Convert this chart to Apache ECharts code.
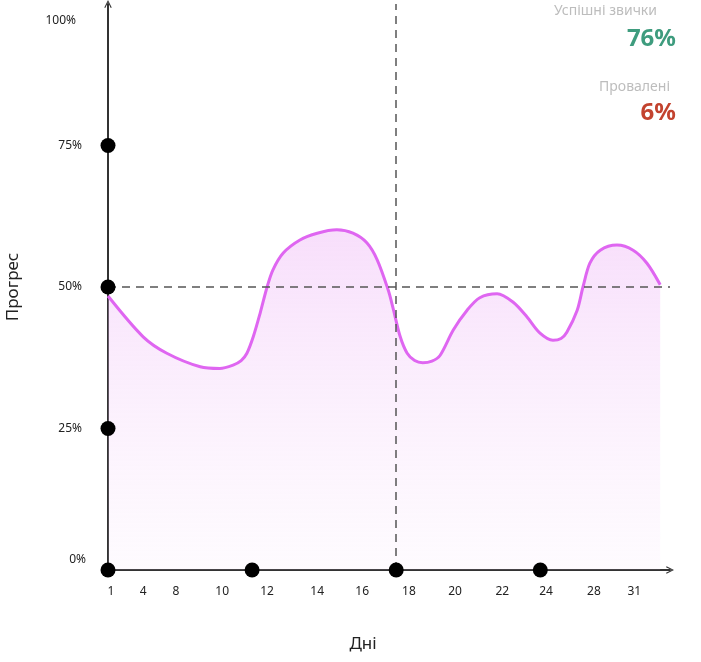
<!DOCTYPE html>
<html>
<head>
<meta charset="utf-8">
<script src="https://cdn.jsdelivr.net/npm/echarts@6/dist/echarts.min.js"></script>
<style>html,body{margin:0;padding:0;background:#fff}#c{width:701px;height:662px}</style>
</head>
<body>
<div id="c"></div>
<script>
// Curve: position along the day axis and progress (%)
const curveX = [0, 6.1, 10.2, 16.0, 19.4, 21.7, 23.1, 24.1, 25.2, 26.4, 27.6, 28.6, 30.4, 33.3, 36.3, 39.7, 42.5, 44.9, 46.7, 48.6, 49.4, 50.7, 51.9, 53.2, 54.6, 56.2, 57.6, 59.9, 62.3, 64.5, 67.5, 70.3, 72.7, 74.9, 77.2, 78.6, 79.6, 81.4, 82.4, 83.6, 85.4, 88.3, 91.1, 93.5, 95.8];
const progress = [48.4, 41.2, 38.3, 35.9, 35.6, 36.2, 37.0, 38.3, 41.2, 45.4, 50.0, 53.0, 56.0, 58.3, 59.5, 60.1, 59.5, 57.8, 54.8, 49.5, 46.5, 41.2, 38.3, 37.0, 36.6, 36.9, 37.9, 42.4, 45.9, 48.1, 48.8, 47.3, 44.7, 41.9, 40.6, 40.9, 42.0, 45.9, 50.0, 54.2, 56.5, 57.4, 56.5, 54.2, 50.4];
// Day tick labels and where they sit on the axis
const dayLabels = ['1', '4', '8', '10', '12', '14', '16', '18', '20', '22', '24', '28', '31'];
const dayLabelAt = [0.5, 6.1, 11.8, 19.8, 27.6, 36.3, 44.1, 52.2, 60.2, 68.4, 76.0, 84.3, 91.3];
// Y tick values
const yTicks = [0, 25, 50, 75, 100];
// Marker dots on the axes
const axisDots = [[0, 0], [0, 25], [0, 50], [0, 75], [25, 0], [50, 0], [75, 0]];
// Guide lines
const guideX = 50, guideY = 50;
// Summary
const successLabel = 'Успішні звички', successValue = '76%';
const failLabel = 'Провалені', failValue = '6%';

const FONT = 'Noto Sans';
const chevron = 'path://M0,12 L6,0 L12,12 L10.4,12.9 L6,3.6 L1.6,12.9 Z';

const chart = echarts.init(document.getElementById('c'));
chart.setOption({
  animation: false,
  textStyle: { fontFamily: FONT },
  grid: { left: 108, right: 31, top: 4, bottom: 92, containLabel: false, outerBoundsMode: 'none' },
  xAxis: {
    type: 'value', min: 0, max: 97.5,
    name: 'Дні', nameLocation: 'middle', nameGap: 66,
    nameTextStyle: { fontSize: 17, color: '#222', fontFamily: FONT, padding: [0, 52, 0, 0] },
    axisLine: { show: true, onZero: false, lineStyle: { color: '#333', width: 2 }, symbol: ['none', chevron], symbolSize: [13, 8], symbolOffset: [0, 0] },
    axisTick: { show: false },
    splitLine: { show: false },
    axisLabel: {
      customValues: dayLabelAt, margin: 16, fontSize: 12, color: '#222', fontFamily: FONT,
      formatter: v => { const i = dayLabelAt.indexOf(v); return i >= 0 ? dayLabels[i] : ''; }
    }
  },
  yAxis: {
    type: 'value', min: 0, max: 100,
    name: 'Прогрес', nameLocation: 'middle', nameGap: 86,
    nameTextStyle: { fontSize: 17, color: '#222', fontFamily: FONT },
    axisLine: { show: true, onZero: false, lineStyle: { color: '#333', width: 2 }, symbol: ['none', chevron], symbolSize: [13, 8] },
    axisTick: { show: false },
    splitLine: { show: false },
    axisLabel: {
      customValues: yTicks, margin: 22, fontSize: 12, color: '#222', fontFamily: FONT,
      formatter: v => v === 100 ? '{t|100%}' : (v === 0 ? '{b|0%}' : '{m|' + v + '%}'),
      rich: {
        t: { fontSize: 12, color: '#222', fontFamily: FONT, padding: [34, 10, 0, 0] },
        b: { fontSize: 12, color: '#222', fontFamily: FONT, padding: [0, 0, 20, 0] },
        m: { fontSize: 12, color: '#222', fontFamily: FONT, padding: [0, 4, 0, 0] }
      }
    }
  },
  series: [
    {
      type: 'line',
      data: curveX.map((x, i) => [x, progress[i]]),
      smooth: 0.3,
      showSymbol: false,
      lineStyle: { color: '#df66f1', width: 3 },
      areaStyle: {
        color: new echarts.graphic.LinearGradient(0, 0, 0, 1, [
          { offset: 0, color: 'rgba(236,170,245,0.55)' },
          { offset: 1, color: 'rgba(245,215,250,0.15)' }
        ])
      },
      z: 2,
      markLine: {
        silent: true, symbol: 'none', label: { show: false },
        lineStyle: { color: '#555', type: [8, 6], width: 1.5 },
        data: [{ yAxis: guideY }, { xAxis: guideX }]
      }
    },
    {
      type: 'scatter',
      data: axisDots,
      symbolSize: 15,
      itemStyle: { color: '#000', opacity: 1 },
      clip: false,
      z: 5
    }
  ],
  graphic: [
    { type: 'text', right: 44, top: 4, style: { text: successLabel, fontSize: 14, fill: '#bdbdbd', fontFamily: FONT } },
    { type: 'text', right: 25, top: 27, style: { text: successValue, fontSize: 24, fontWeight: 'bold', fill: '#3e9c7e', fontFamily: FONT } },
    { type: 'text', right: 31, top: 80, style: { text: failLabel, fontSize: 14, fill: '#bdbdbd', fontFamily: FONT } },
    { type: 'text', right: 25, top: 101, style: { text: failValue, fontSize: 24, fontWeight: 'bold', fill: '#c3432f', fontFamily: FONT } }
  ]
});
</script>
</body>
</html>
